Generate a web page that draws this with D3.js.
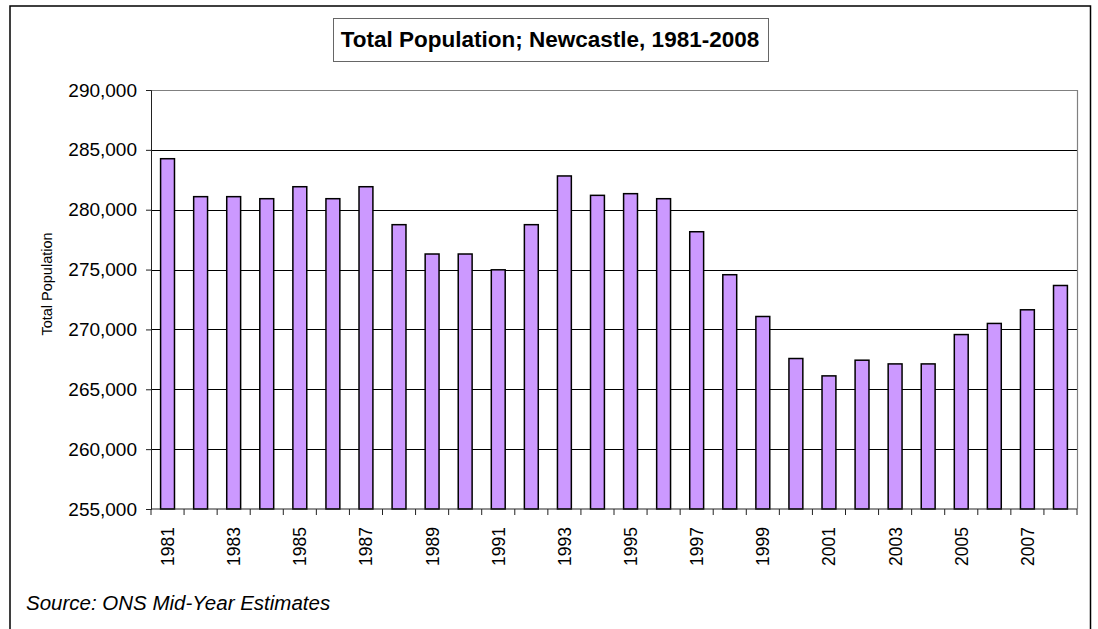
<!DOCTYPE html>
<html><head><meta charset="utf-8">
<script src="https://cdn.jsdelivr.net/npm/d3@7"></script>
<style>body{margin:0;background:#fff}svg{display:block}text{font-family:"Liberation Sans",Arial,sans-serif}</style>
</head><body>
<svg id="c" width="1098" height="629"></svg>
<script>
const years = d3.range(1981, 2009).map(String);
const population = [284260,281090,281090,280920,281920,280920,281920,278750,276300,276300,274980,278750,282820,281200,281340,280920,278160,274570,271080,267570,266120,267430,267120,267120,269570,270500,271640,273670];
const yTicks = [255000,260000,265000,270000,275000,280000,285000,290000];
const titleText = "Total Population; Newcastle, 1981-2008";
const yTitle = "Total Population";
const sourceText = "Source: ONS Mid-Year Estimates";

const svg = d3.select("#c");
const L = 151, R = 1077, T = 90, B = 509;
const x = d3.scaleBand().domain(years).range([L, R]).paddingInner(0.58).paddingOuter(0.29);
const y = d3.scaleLinear().domain([255000, 290000]).range([B, T]);

// outer frame
svg.append("rect").attr("x",10).attr("y",6).attr("width",1080.5).attr("height",640)
  .attr("fill","none").attr("stroke","#000").attr("stroke-width",1.5);

// gridlines
svg.append("g").selectAll("line").data(yTicks.slice(1,-1)).join("line")
  .attr("x1",L).attr("x2",R).attr("y1",d=>Math.round(y(d))+0.5).attr("y2",d=>Math.round(y(d))+0.5)
  .attr("stroke","#000").attr("stroke-width",1);
// plot border top/right gray
svg.append("path").attr("d",`M${L},${T+0.5}H${R+0.5}V${B}`).attr("fill","none").attr("stroke","#808080").attr("stroke-width",1.2);

// bars
svg.append("g").selectAll("rect").data(population).join("rect")
  .attr("x",(d,i)=>x(years[i])).attr("width",x.bandwidth())
  .attr("y",d=>y(d)).attr("height",d=>B-y(d))
  .attr("fill","#CC99FF").attr("stroke","#000").attr("stroke-width",1.5);

// y axis
const ya = svg.append("g").attr("transform",`translate(${L},0)`)
  .call(d3.axisLeft(y).tickValues(yTicks).tickSize(5).tickPadding(9).tickFormat(d3.format(",")));
ya.select(".domain").attr("stroke","#222");
ya.selectAll(".tick line").attr("stroke","#222");
ya.selectAll("text").attr("font-size",19).attr("fill","#000").attr("font-family","Liberation Sans, Arial, sans-serif");

// x axis
const step = x.step();
const xa = svg.append("g").attr("transform",`translate(0,${B})`);
xa.append("line").attr("x1",L).attr("x2",R).attr("stroke","#222");
xa.selectAll("line.t").data(d3.range(years.length+1)).join("line").attr("class","t")
  .attr("x1",i=>L+i*step).attr("x2",i=>L+i*step).attr("y1",0).attr("y2",6).attr("stroke","#222");
xa.selectAll("text").data(years.filter((d,i)=>i%2===0)).join("text")
  .attr("transform",d=>`translate(${x(d)+x.bandwidth()/2+6.5},18) rotate(-90)`)
  .attr("text-anchor","end").attr("font-size",17.5).attr("fill","#000").text(d=>d);

// y title
svg.append("text").attr("transform","translate(52,284) rotate(-90)").attr("text-anchor","middle")
  .attr("font-size",14.5).text(yTitle);

// title box
svg.append("rect").attr("x",333.5).attr("y",18.5).attr("width",435).attr("height",43)
  .attr("fill","#fff").attr("stroke","#666").attr("stroke-width",1);
svg.append("text").attr("x",550).attr("y",47).attr("text-anchor","middle").attr("font-size",22.5)
  .attr("font-weight","bold").text(titleText);

// source
svg.append("text").attr("x",26).attr("y",610).attr("font-size",20.5).attr("font-style","italic").text(sourceText);
</script>
</body></html>
